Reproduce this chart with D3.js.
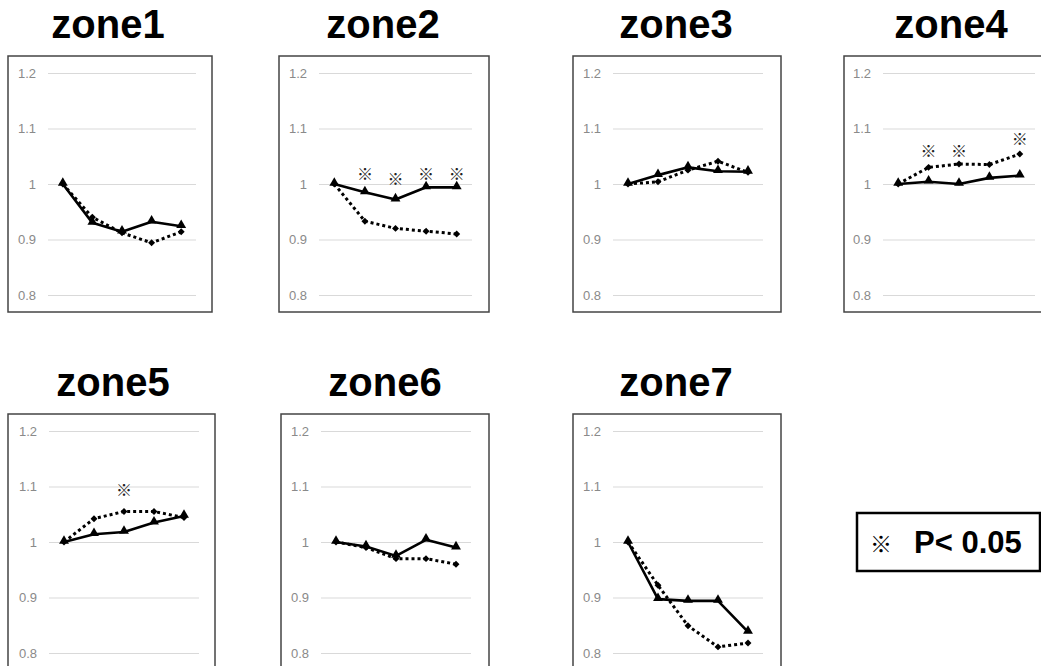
<!DOCTYPE html>
<html>
<head>
<meta charset="utf-8">
<script src="https://cdn.jsdelivr.net/npm/d3@7"></script>
<style>
  html, body { margin: 0; padding: 0; background: #fff; }
  svg { display: block; }
</style>
</head>
<body>
<svg id="chart" width="1041" height="666"></svg>
<script>
// ---------- DATA ----------
const zoneNames = ["zone1", "zone2", "zone3", "zone4", "zone5", "zone6", "zone7"];
const timepoints = ["t1", "t2", "t3", "t4", "t5"];
const yTicks = [0.8, 0.9, 1, 1.1, 1.2];
const yTickLabels = ["0.8", "0.9", "1", "1.1", "1.2"];

// solid line with triangle markers
const solidSeries = [
  [1.000, 0.930, 0.914, 0.932, 0.924],
  [1.000, 0.985, 0.972, 0.994, 0.994],
  [1.000, 1.016, 1.030, 1.023, 1.022],
  [1.000, 1.004, 1.000, 1.011, 1.015],
  [1.000, 1.014, 1.018, 1.035, 1.047],
  [1.000, 0.992, 0.975, 1.004, 0.990],
  [1.000, 0.897, 0.894, 0.894, 0.838]
];
// dotted line with diamond markers
const dottedSeries = [
  [1.000, 0.940, 0.912, 0.894, 0.914],
  [1.000, 0.933, 0.920, 0.915, 0.910],
  [1.000, 1.004, 1.025, 1.041, 1.021],
  [1.000, 1.030, 1.036, 1.035, 1.054],
  [1.000, 1.042, 1.055, 1.055, 1.044],
  [1.000, 0.990, 0.970, 0.970, 0.960],
  [1.000, 0.922, 0.849, 0.811, 0.818]
];
// significance marks (※): zone index, timepoint index, y value
const starZone = [1, 1, 1, 1, 3, 3, 3, 4];
const starPoint = [1, 2, 3, 4, 1, 2, 4, 2];
const starValue = [1.018, 1.009, 1.018, 1.018, 1.059, 1.059, 1.080, 1.094];
const legendSymbol = "※";
const legendText = "P< 0.05";

// ---------- LAYOUT ----------
const panels = [
  { x: 8,   y: 56,  w: 204, gx: 48,  gw: 148, tx: 108 },
  { x: 279, y: 56,  w: 210, gx: 319, gw: 153, tx: 383 },
  { x: 573, y: 56,  w: 208, gx: 613, gw: 150, tx: 676 },
  { x: 844, y: 56,  w: 210, gx: 883, gw: 152, tx: 951 },
  { x: 8,   y: 414, w: 207, gx: 49,  gw: 150, tx: 113 },
  { x: 281, y: 414, w: 208, gx: 321, gw: 150, tx: 385 },
  { x: 573, y: 414, w: 208, gx: 613, gw: 150, tx: 676 }
];
const frameH = 256;

const svg = d3.select("#chart");

panels.forEach((p, i) => {
  const g = svg.append("g");
  const top = p.y + 17;      // y of 1.2
  const bottom = p.y + 239;  // y of 0.8
  const x = d3.scalePoint().domain(timepoints).range([p.gx, p.gx + p.gw]).padding(0.5);
  const y = d3.scaleLinear().domain([0.8, 1.2]).range([bottom, top]);

  // title
  g.append("text")
    .attr("x", p.tx).attr("y", p.y - 18)
    .attr("text-anchor", "middle")
    .attr("font-family", "Liberation Sans, Arial, sans-serif")
    .attr("font-weight", "bold")
    .attr("font-size", 40)
    .attr("fill", "#000")
    .text(zoneNames[i]);

  // frame
  g.append("rect")
    .attr("x", p.x).attr("y", p.y)
    .attr("width", p.w).attr("height", frameH)
    .attr("fill", "#fff")
    .attr("stroke", "#444").attr("stroke-width", 1.5);

  // gridlines + labels via axis
  const axis = d3.axisLeft(y)
    .tickValues(yTicks)
    .tickSize(-p.gw)
    .tickPadding(12)
    .tickFormat((d, k) => yTickLabels[k]);
  const ax = g.append("g")
    .attr("transform", `translate(${p.gx},0)`)
    .call(axis);
  ax.select(".domain").remove();
  ax.selectAll(".tick line").attr("stroke", "#d9d9d9").attr("stroke-width", 1);
  ax.selectAll(".tick text")
    .attr("fill", "#8a8a8a")
    .attr("font-family", "Liberation Sans, Arial, sans-serif")
    .attr("font-size", 13);

  const line = d3.line()
    .x((d, k) => x(timepoints[k]))
    .y(d => y(d));

  // solid series
  g.append("path")
    .datum(solidSeries[i])
    .attr("d", line)
    .attr("fill", "none")
    .attr("stroke", "#000")
    .attr("stroke-width", 2.6)
    .attr("stroke-linejoin", "round");
  g.selectAll(".tri")
    .data(solidSeries[i])
    .join("path")
    .attr("d", d3.symbol(d3.symbolTriangle, 42))
    .attr("transform", (d, k) => `translate(${x(timepoints[k])},${y(d) - 1})`)
    .attr("fill", "#000");

  // dotted series
  g.append("path")
    .datum(dottedSeries[i])
    .attr("d", line)
    .attr("fill", "none")
    .attr("stroke", "#000")
    .attr("stroke-width", 3)
    .attr("stroke-dasharray", "3,3");
  g.selectAll(".dia")
    .data(dottedSeries[i])
    .join("path")
    .attr("d", d3.symbol(d3.symbolSquare, 24))
    .attr("transform", (d, k) => `translate(${x(timepoints[k])},${y(d)}) rotate(45)`)
    .attr("fill", "#000");

  // stars
  starZone.forEach((z, s) => {
    if (z !== i) return;
    g.append("text")
      .attr("x", x(timepoints[starPoint[s]]))
      .attr("y", y(starValue[s]))
      .attr("dy", "0.36em")
      .attr("text-anchor", "middle")
      .attr("font-family", "Noto Sans CJK JP, DejaVu Sans, sans-serif")
      .attr("font-size", 16)
      .attr("fill", "#222")
      .text(legendSymbol);
  });
});

// legend
const lg = svg.append("g");
lg.append("rect")
  .attr("x", 857).attr("y", 513)
  .attr("width", 183).attr("height", 58)
  .attr("fill", "#fff")
  .attr("stroke", "#000").attr("stroke-width", 2.5);
lg.append("text")
  .attr("x", 881).attr("y", 552)
  .attr("text-anchor", "middle")
  .attr("font-family", "Noto Sans CJK JP, DejaVu Sans, sans-serif")
  .attr("font-size", 22)
  .attr("fill", "#000")
  .text(legendSymbol);
lg.append("text")
  .attr("x", 914).attr("y", 553)
  .attr("font-family", "Liberation Sans, Arial, sans-serif")
  .attr("font-weight", "bold")
  .attr("font-size", 31)
  .attr("fill", "#000")
  .text(legendText);
</script>
</body>
</html>
